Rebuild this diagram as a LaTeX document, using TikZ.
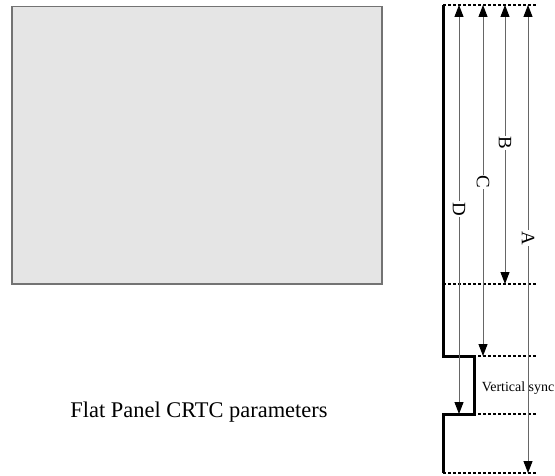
\documentclass[tikz,border=0pt]{standalone}
\usepackage{fontspec}
\setmainfont{Liberation Serif}
\usetikzlibrary{arrows.meta, positioning}

\begin{document}
\begin{tikzpicture}[
    x=1bp, y=-1bp,
    panel/.style={draw=black!55, fill=black!10, line width=1.5bp,
                  minimum width=370bp, minimum height=277bp, inner sep=0pt},
    signal/.style={line width=3bp, line join=miter},
    guide/.style={dash pattern=on 3bp off 2bp, line width=1.2bp},
    dim/.style={{Triangle[length=12bp,width=9bp,black]}-{Triangle[length=12bp,width=9bp,black]},
                draw=black!60, line width=1bp},
    dimlabel/.style={fill=white, rotate=-90, inner sep=1bp, font=\fontsize{19}{19}\selectfont},
    caption/.style={font=\fontsize{22.5}{26}\selectfont}
]
\useasboundingbox (0,0) rectangle (555,476);

\node[panel, anchor=north west] (screen) at (11,6) {};
\node[caption] (title) at (199,412) {Flat Panel CRTC parameters};

% timing levels
\foreach \y in {5, 284, 356, 414, 473} \draw[guide] (443,\y) -- (537,\y);

\draw[signal] (443,5) |- (474,356) |- (443,414) -- (443,473);

% dimension arrows
\foreach \n/\x/\y/\t in {D/459/414/209, C/483/356/182, B/505/284/143, A/528/473/238} {
    \coordinate (\n top) at (\x,5);
    \coordinate (\n end) at (\x,\y);
    \draw[dim] (\n top) -- (\n end);
    \node[dimlabel] (\n lab) at (\x,\t) {\n};
}

\node[font=\fontsize{14}{16}\selectfont] (vsync) at (518,388) {Vertical sync};
\end{tikzpicture}
\end{document}
